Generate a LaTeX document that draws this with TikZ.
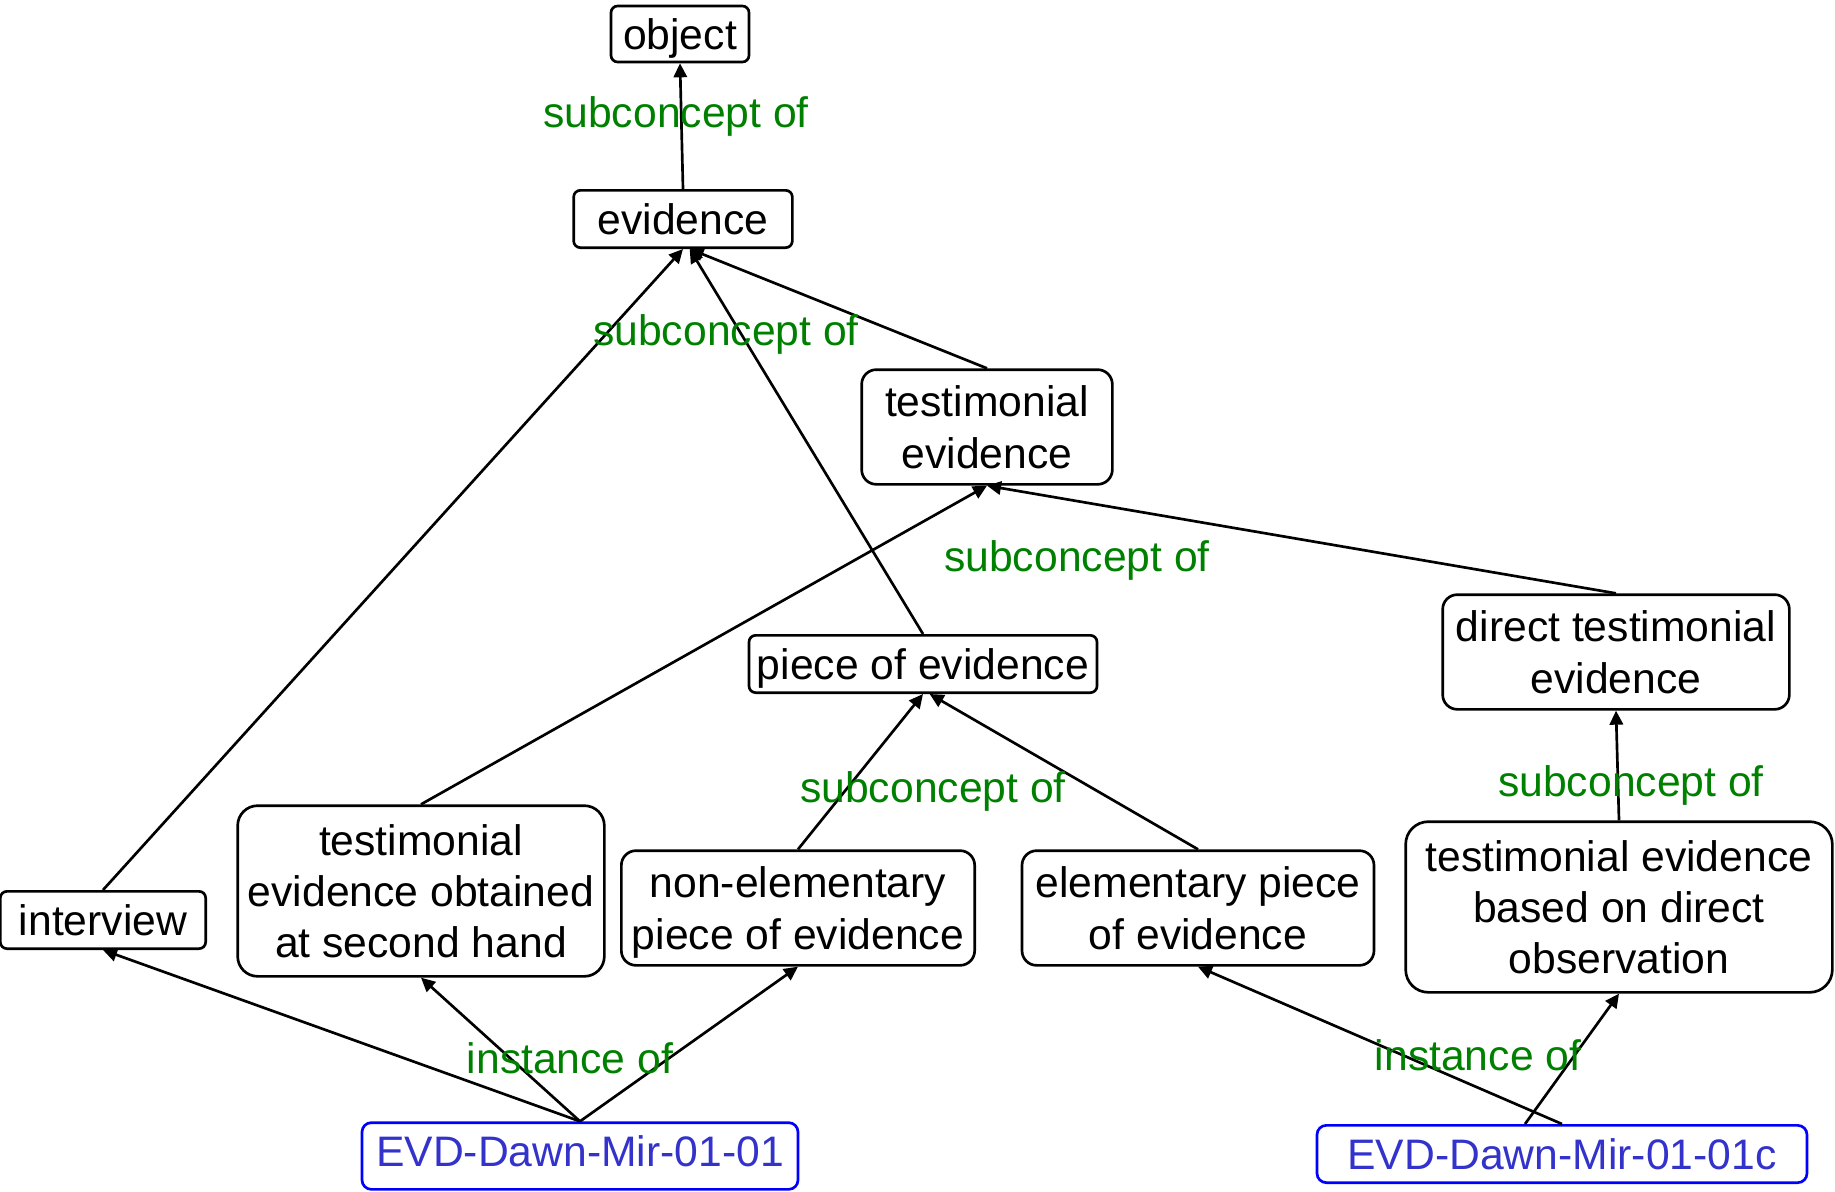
\documentclass[tikz,border=0pt]{standalone}
\usepackage{fontspec}
\setmainfont{Liberation Sans}
\usetikzlibrary{arrows.meta}

\tikzset{every picture/.style={line width=2pt}}

\begin{document}
\begin{tikzpicture}[x=0.75pt,y=0.75pt,yscale=-1,xscale=1,
	concept/.style={draw, rounded corners=5pt, align=center, inner sep=0pt, text depth=-2pt, font=\fontsize{32}{38.6}\selectfont},
	instnode/.style={concept, draw={rgb, 255:red, 0; green, 0; blue, 255 }, text={rgb, 255:red, 51; green, 51; blue, 204 }},
	rel/.style={inner sep=0pt, anchor=base, text={rgb, 255:red, 0; green, 128; blue, 0 }, font=\fontsize{32}{38.6}\selectfont},
	link/.style={-{Triangle[length=10.5pt,width=10pt]}}]
	%set diagram size 1835 x 1192
	\useasboundingbox (0,0) rectangle (1835,1192);

	% Concept Nodes
	\node [concept, minimum width=103.5pt, minimum height=42pt] (obj) at (680,34) {object};
	\node [concept, minimum width=164pt, minimum height=43pt] (evd) at (683,219) {evidence};
	\node [concept, rounded corners=11pt, minimum width=188pt, minimum height=86pt] (testev) at (987,427) {testimonial\\evidence};
	\node [concept, rounded corners=11pt, minimum width=260pt, minimum height=86pt] (dirtest) at (1616,652) {direct testimonial\\evidence};
	\node [concept, minimum width=261pt, minimum height=43pt] (piece) at (923,664) {piece of evidence};
	\node [concept, minimum width=154pt, minimum height=43pt] (intv) at (103,920) {interview};
	\node [concept, rounded corners=15pt, minimum width=275pt, minimum height=128pt] (second) at (421,891) {testimonial\\evidence obtained\\at second hand};
	\node [concept, rounded corners=11pt, minimum width=265pt, minimum height=86pt] (nonelem) at (798,908) {non-elementary\\piece of evidence};
	\node [concept, rounded corners=11pt, minimum width=264pt, minimum height=86pt] (elem) at (1198,908) {elementary piece\\of evidence};
	\node [concept, rounded corners=17pt, minimum width=320pt, minimum height=128pt] (dirobs) at (1619,907) {testimonial evidence\\based on direct\\observation};

	% Instance Nodes
	\node [instnode, rounded corners=7pt, text depth=7.9pt, minimum width=327pt, minimum height=50pt] (inst1) at (580,1156) {EVD-Dawn-Mir-01-01};
	\node [instnode, rounded corners=7pt, minimum width=367.5pt, minimum height=43pt] (inst2) at (1562,1154) {EVD-Dawn-Mir-01-01c};

	% Subconcept Links
	\draw [link] (evd.north) -- (obj.south);
	\draw [link] (intv.north) -- (evd.south);
	\draw [link] (piece.north) -- ([xshift=5pt]evd.south);
	\draw [link] (testev.north) -- ([xshift=5pt]evd.south);
	\draw [link] (second.north) -- (testev.south);
	\draw [link] (dirtest.north) -- (testev.south);
	\draw [link] (nonelem.north) -- (piece.south);
	\draw [link] (elem.north) -- ([xshift=5pt]piece.south);
	\draw [link] (dirobs.north) -- (dirtest.south);

	% Instance Links
	\draw [link] (inst1.north) -- (intv.south);
	\draw [link] (inst1.north) -- (second.south);
	\draw [link] (inst1.north) -- (nonelem.south);
	\draw [link] (inst2.north) -- (elem.south);
	\draw [link] ([xshift=-27.75pt]inst2.north) -- (dirobs.south);

	% Text Node
	\node [rel] (lbl1) at (676,127) {subconcept of};
	% Text Node
	\node [rel] (lbl2) at (726,345.5) {subconcept of};
	% Text Node
	\node [rel] (lbl3) at (1077,571.5) {subconcept of};
	% Text Node
	\node [rel] (lbl4) at (933,802.5) {subconcept of};
	% Text Node
	\node [rel] (lbl5) at (1631,796.5) {subconcept of};
	% Text Node
	\node [rel] (lbl6) at (570,1073) {instance of};
	% Text Node
	\node [rel] (lbl7) at (1478,1070) {instance of};

\end{tikzpicture}
\end{document}
